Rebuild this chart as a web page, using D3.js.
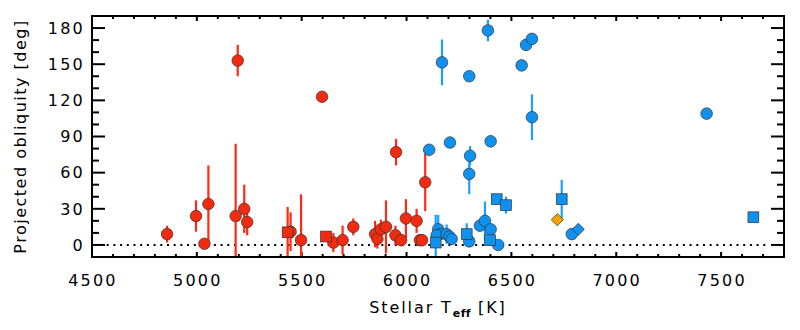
<!DOCTYPE html>
<html>
<head>
<meta charset="utf-8">
<script src="https://cdn.jsdelivr.net/npm/d3@7"></script>
<style>
  body { margin: 0; background: #fff; }
  text { font-family: "DejaVu Sans", sans-serif; }
</style>
</head>
<body>
<div id="chart"></div>
<script>
// values: [Teff (K), projected obliquity (deg), error (deg)]
const redCircles = [
  [4858, 9, 7], [4996, 24, 13], [5036, 1, 0], [5055, 34, 32],
  [5195, 153, 13], [5185, 24, 60], [5226, 30, 20], [5240, 19, 11],
  [5447, 11, 16], [5497, 4, 38], [5597, 123, 0], [5651, 2, 8],
  [5695, 4, 12], [5746, 15, 7], [5850, 9, 11], [5861, 5, 8],
  [5878, 13, 8], [5902, 15, 22], [5950, 77, 11], [5947, 8, 8],
  [5974, 4, 5], [5997, 22, 16], [6048, 20, 10], [6064, 4, 0],
  [6074, 4, 0], [6089, 52, 24]
]
const redSquares = [[5433, 10.5, 21], [5616, 7, 2]]
const blueCircles = [
  [6169, 151.5, 19], [6299, 140, 0], [6388, 178, 9], [6549, 149, 0],
  [6570, 166, 5], [6598, 171, 0], [6598, 106, 19], [7431, 109, 0],
  [6108, 79, 0], [6207, 85, 0], [6303, 74, 8], [6299, 59, 17],
  [6401, 86, 5], [6151, 13, 12], [6160, 9, 0], [6144, 8, 0],
  [6191, 9, 8], [6204, 7, 0], [6215, 5, 5], [6299, 3, 0],
  [6350, 16, 0], [6374, 20, 16], [6401, 13, 0], [6437, 0, 0],
  [6788, 9, 0]
]
const blueSquares = [
  [6139, 2, 23], [6287, 9, 9], [6398, 4, 3], [6430, 38, 0],
  [6474, 33, 7], [6740, 38, 16], [7654, 23, 0]
]
const blueDiamonds = [[6819, 13, 0]]
const orangeDiamonds = [[6719, 21, 0]]

const xTicks = [4500, 5000, 5500, 6000, 6500, 7000, 7500]
const yTicks = [0, 30, 60, 90, 120, 150, 180]

const red = "#f22a10", redBar = "#ff2a14"
const blue = "#0f92ef", blueBar = "#1aa0ff"
const orange = "#f5a300"

var margin = {top: 16, right: 16, bottom: 73, left: 92},
    width = 800 - margin.left - margin.right,
    height = 330 - margin.top - margin.bottom;

var svg = d3.select("#chart")
    .append("svg")
    .attr("width", 800)
    .attr("height", 330)
    .append("g")
    .attr("transform", "translate(" + margin.left + "," + margin.top + ")");

var x = d3.scaleLinear().domain([4500, 7800]).range([0, width]);
var y = d3.scaleLinear().domain([-10, 190]).range([height, 0]);

svg.append("clipPath").attr("id", "plotclip")
    .append("rect").attr("width", width).attr("height", height);

// zero line
svg.append("line")
    .attr("x1", x(4570)).attr("x2", x(7730))
    .attr("y1", y(0)).attr("y2", y(0))
    .attr("stroke", "#000").attr("stroke-width", 2)
    .attr("stroke-dasharray", "2,4.7");

// ticks, IDL style: inside, on all four sides
function tickLines(vals, len, side) {
    svg.append("g").selectAll("line").data(vals).enter().append("line")
        .attr("x1", d => side === "left" ? 0 : side === "right" ? width : x(d))
        .attr("x2", d => side === "left" ? len : side === "right" ? width - len : x(d))
        .attr("y1", d => side === "bottom" ? height : side === "top" ? 0 : y(d))
        .attr("y2", d => side === "bottom" ? height - len : side === "top" ? len : y(d))
        .attr("stroke", "#000").attr("stroke-width", 2);
}
const xMinor = d3.range(4600, 7800, 100).filter(d => d % 500 !== 0)
const yMinor = d3.range(-10, 190, 10).filter(d => d % 30 !== 0)
tickLines(xTicks, 5, "bottom"); tickLines(xMinor, 3, "bottom");
tickLines(xTicks, 5, "top"); tickLines(xMinor, 3, "top");
tickLines(yTicks, 13, "left"); tickLines(yMinor, 7, "left");
tickLines(yTicks, 13, "right"); tickLines(yMinor, 7, "right");

svg.append("g").selectAll("text").data(xTicks).enter().append("text")
    .attr("x", d => x(d) + 1).attr("y", height + 29)
    .attr("text-anchor", "middle")
    .attr("font-size", 16).attr("letter-spacing", 2.2)
    .text(d => d);
svg.append("g").selectAll("text").data(yTicks).enter().append("text")
    .attr("x", -7).attr("y", d => y(d)).attr("dy", "0.36em")
    .attr("text-anchor", "end")
    .attr("font-size", 16).attr("letter-spacing", 2.2)
    .text(d => d);

// axis titles
var xt = svg.append("text")
    .attr("x", width / 2).attr("y", height + 56)
    .attr("text-anchor", "middle")
    .attr("font-size", 16).attr("letter-spacing", 1.9);
xt.append("tspan").text("Stellar T");
xt.append("tspan").attr("dy", 4).attr("font-size", 11).attr("font-weight", "bold").attr("letter-spacing", 0.4).text("eff");
xt.append("tspan").attr("dy", -4).text(" [K]");

svg.append("text")
    .attr("transform", "translate(-66," + (height / 2) + ") rotate(-90)")
    .attr("text-anchor", "middle")
    .attr("font-size", 16).attr("letter-spacing", 1.5)
    .text("Projected obliquity [deg]");

// error bars
var plot = svg.append("g").attr("clip-path", "url(#plotclip)");
function errBars(data, color) {
    plot.append("g").selectAll("line").data(data.filter(d => d[2] > 0)).enter().append("line")
        .attr("x1", d => x(d[0])).attr("x2", d => x(d[0]))
        .attr("y1", d => y(d[1] - d[2])).attr("y2", d => y(d[1] + d[2]))
        .attr("stroke", color).attr("stroke-width", 2.2);
}
errBars(redCircles, redBar); errBars(redSquares, redBar);
errBars(blueCircles, blueBar); errBars(blueSquares, blueBar);

function circles(data, color) {
    plot.append("g").selectAll("circle").data(data).enter().append("circle")
        .attr("cx", d => x(d[0])).attr("cy", d => y(d[1])).attr("r", 5.8)
        .attr("fill", color).attr("stroke", "#333").attr("stroke-width", 0.7);
}
function squares(data, color) {
    plot.append("g").selectAll("rect").data(data).enter().append("rect")
        .attr("x", d => x(d[0]) - 5.4).attr("y", d => y(d[1]) - 5.4)
        .attr("width", 10.8).attr("height", 10.8)
        .attr("fill", color).attr("stroke", "#333").attr("stroke-width", 0.7);
}
function diamonds(data, color) {
    plot.append("g").selectAll("path").data(data).enter().append("path")
        .attr("d", d3.symbol(d3.symbolDiamond2, 95))
        .attr("transform", d => "translate(" + x(d[0]) + "," + y(d[1]) + ")")
        .attr("fill", color).attr("stroke", "#333").attr("stroke-width", 0.7);
}
circles(redCircles, red); squares(redSquares, red);
circles(blueCircles, blue); squares(blueSquares, blue);
diamonds(blueDiamonds, blue); diamonds(orangeDiamonds, orange);

// frame
svg.append("rect")
    .attr("width", width).attr("height", height)
    .attr("fill", "none").attr("stroke", "#000").attr("stroke-width", 2);
</script>
</body>
</html>
